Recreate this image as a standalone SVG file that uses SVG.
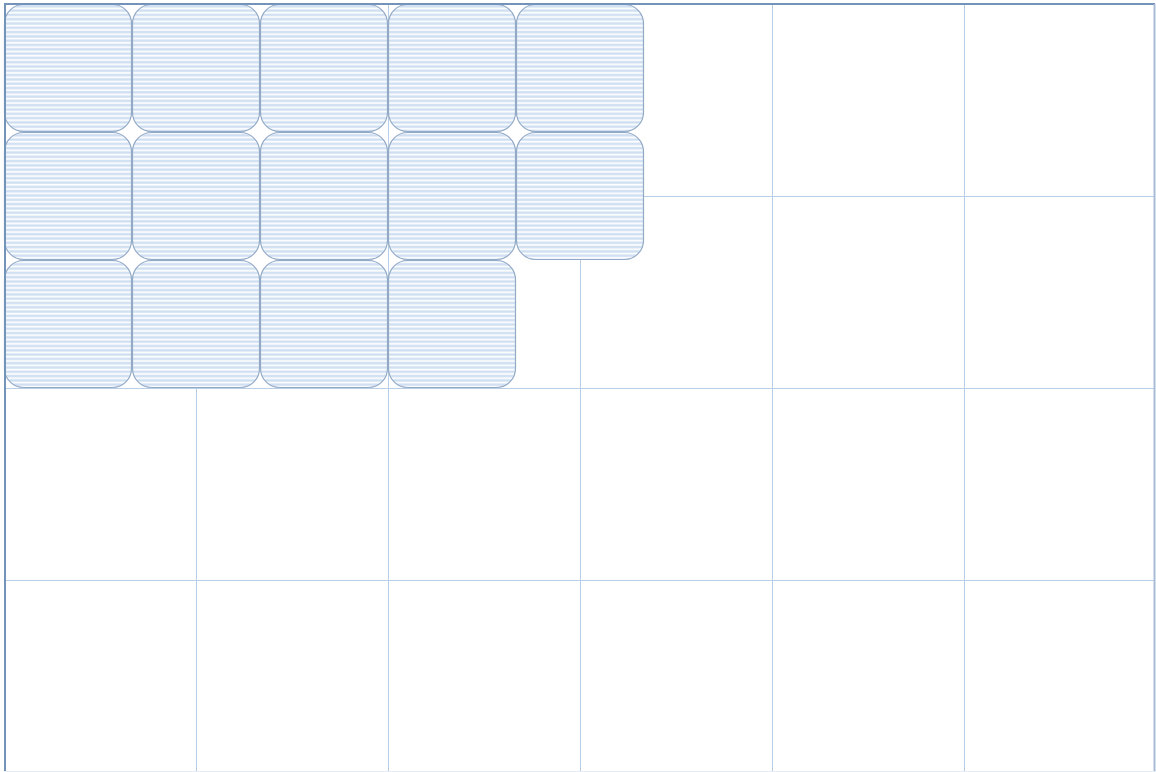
<svg xmlns="http://www.w3.org/2000/svg" width="1156" height="772" viewBox="0 0 1156 772">
<defs>
<pattern id="hatch" patternUnits="userSpaceOnUse" width="4" height="4.3">
<rect width="4" height="4.3" fill="#ffffff"/>
<rect y="0.5" width="4" height="3" fill="#e4edf8"/>
<circle cx="1" cy="2" r="1.1" fill="#cfdff2"/>
<circle cx="3" cy="2" r="1.1" fill="#cfdff2"/>
</pattern>
</defs>
<style>
.grid{stroke:#b9cfe8;stroke-width:1;fill:none}
.edge{stroke:#7393b8;stroke-width:2;fill:none}
.edge2{stroke:#a9bdd6;stroke-width:2;fill:none}
.tile{fill:url(#hatch);stroke:#93aac6;stroke-width:1.2}
</style>
<rect width="1156" height="772" fill="#ffffff"/>
<g id="grid">
<line class="grid" x1="196.5" y1="4" x2="196.5" y2="772"/>
<line class="grid" x1="388.5" y1="4" x2="388.5" y2="772"/>
<line class="grid" x1="580.5" y1="4" x2="580.5" y2="772"/>
<line class="grid" x1="772.5" y1="4" x2="772.5" y2="772"/>
<line class="grid" x1="964.5" y1="4" x2="964.5" y2="772"/>
<line class="grid" x1="4" y1="196.5" x2="1155" y2="196.5"/>
<line class="grid" x1="4" y1="388.5" x2="1155" y2="388.5"/>
<line class="grid" x1="4" y1="580.5" x2="1155" y2="580.5"/>
</g>
<g id="tiles">
<rect id="t00" class="tile" x="4.5" y="4.5" width="127" height="127" rx="19"/>
<rect id="t01" class="tile" x="132.5" y="4.5" width="127" height="127" rx="19"/>
<rect id="t02" class="tile" x="260.5" y="4.5" width="127" height="127" rx="19"/>
<rect id="t03" class="tile" x="388.5" y="4.5" width="127" height="127" rx="19"/>
<rect id="t04" class="tile" x="516.5" y="4.5" width="127" height="127" rx="19"/>
<rect id="t10" class="tile" x="4.5" y="132.5" width="127" height="127" rx="19"/>
<rect id="t11" class="tile" x="132.5" y="132.5" width="127" height="127" rx="19"/>
<rect id="t12" class="tile" x="260.5" y="132.5" width="127" height="127" rx="19"/>
<rect id="t13" class="tile" x="388.5" y="132.5" width="127" height="127" rx="19"/>
<rect id="t14" class="tile" x="516.5" y="132.5" width="127" height="127" rx="19"/>
<rect id="t20" class="tile" x="4.5" y="260.5" width="127" height="127" rx="19"/>
<rect id="t21" class="tile" x="132.5" y="260.5" width="127" height="127" rx="19"/>
<rect id="t22" class="tile" x="260.5" y="260.5" width="127" height="127" rx="19"/>
<rect id="t23" class="tile" x="388.5" y="260.5" width="127" height="127" rx="19"/>
</g>
<g id="frame">
<line class="edge" x1="4" y1="4" x2="1155" y2="4"/>
<line class="edge" x1="5" y1="4" x2="5" y2="772"/>
<line class="edge2" x1="1154.5" y1="4" x2="1154.5" y2="772"/>
<line x1="4" y1="771.5" x2="1156" y2="771.5" stroke="#e6ecf3" stroke-width="1"/>
</g>
</svg>
